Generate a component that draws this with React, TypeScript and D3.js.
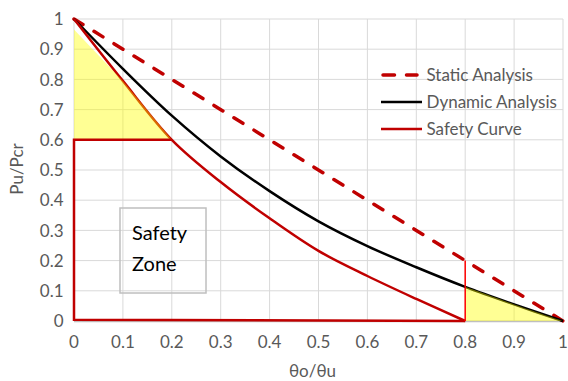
import React from "react";
import * as d3 from "d3";

const ticks = [0, 0.1, 0.2, 0.3, 0.4, 0.5, 0.6, 0.7, 0.8, 0.9, 1];
const tickLabels = ["0", "0.1", "0.2", "0.3", "0.4", "0.5", "0.6", "0.7", "0.8", "0.9", "1"];

const staticX = [0, 1];
const staticY = [1, 0];

const dynamicX = [0, 0.1, 0.2, 0.3, 0.4, 0.5, 0.6, 0.7, 0.8, 0.9, 1];
const dynamicY = [1, 0.835, 0.68, 0.545, 0.43, 0.33, 0.248, 0.178, 0.113, 0.055, 0];

const safetyX = [0, 0.1, 0.2, 0.3, 0.4, 0.5, 0.6, 0.7, 0.8];
const safetyY = [1, 0.795, 0.6, 0.46, 0.34, 0.232, 0.149, 0.073, 0];

// safety zone outline (red)
const zoneX = [0.2, 0, 0, 0.8];
const zoneY = [0.6, 0.6, 0.004, 0];

// vertical marker at 0.8
const markX = [0.8, 0.8];
const markY = [0, 0.2];

// yellow regions
const fillAX = [0, 0, 0.1, 0.2];
const fillAY = [0.6, 0.965, 0.795, 0.6];
const fillBX = [0.8, 0.9, 1];
const fillBY = [0.113, 0.055, 0];

const legendLabels = ["Static Analysis", "Dynamic Analysis", "Safety Curve"];

const W = 568;
const H = 381;
const FONT = "Lato, 'Noto Sans', sans-serif";

export default function App() {
  const x = d3.scaleLinear().domain([0, 1]).range([74, 563]);
  const y = d3.scaleLinear().domain([0, 1]).range([321, 19]);

  const pts = (xs: number[], ys: number[]) => xs.map((v, i) => [v, ys[i]] as [number, number]);

  const smooth = d3
    .line<[number, number]>()
    .x((d) => x(d[0]))
    .y((d) => y(d[1]))
    .curve(d3.curveCatmullRom.alpha(0.5));
  const straight = d3
    .line<[number, number]>()
    .x((d) => x(d[0]))
    .y((d) => y(d[1]));

  const areaB = d3
    .area<[number, number]>()
    .x((d) => x(d[0]))
    .y0(y(0))
    .y1((d) => y(d[1]))
    .curve(d3.curveCatmullRom.alpha(0.5));

  const polyA = pts(fillAX, fillAY).map((p) => `${x(p[0])},${y(p[1])}`).join(" ");

  const legendY = [75, 102, 129];

  return (
    <svg width={W} height={H} style={{ position: "absolute", left: 0, top: 0, background: "#fff" }}>
      {/* grid */}
      {ticks.map((t, i) => (
        <line key={"gx" + i} x1={x(t)} x2={x(t)} y1={y(0)} y2={y(1)} stroke="#d9d9d9" strokeWidth={1} />
      ))}
      {ticks.map((t, i) => (
        <line key={"gy" + i} x1={x(0)} x2={x(1)} y1={y(t)} y2={y(t)} stroke="#d9d9d9" strokeWidth={1} />
      ))}
      <line x1={x(0)} x2={x(1)} y1={y(0) + 0.5} y2={y(0) + 0.5} stroke="#bfbfbf" strokeWidth={1.5} />

      {/* series */}
      <path
        d={straight(pts(staticX, staticY)) || ""}
        fill="none"
        stroke="#c00000"
        strokeWidth={3.5}
        strokeDasharray="10.5 13"
        strokeLinecap="round"
      />
      <path d={smooth(pts(dynamicX, dynamicY)) || ""} fill="none" stroke="#000" strokeWidth={2.5} />
      <path d={smooth(pts(safetyX, safetyY)) || ""} fill="none" stroke="#c00000" strokeWidth={2.5} />

      {/* yellow fills */}
      <polygon points={polyA} fill="#ffff00" fillOpacity={0.42} />
      <path d={areaB(pts(fillBX, fillBY)) || ""} fill="#ffff00" fillOpacity={0.42} />

      {/* zone outline */}
      <path d={straight(pts(zoneX, zoneY)) || ""} fill="none" stroke="#c00000" strokeWidth={2.5} />
      <path d={straight(pts(markX, markY)) || ""} fill="none" stroke="#ff0000" strokeWidth={1.5} />

      {/* safety zone box */}
      <rect x={120} y={208} width={86} height={85} fill="none" stroke="#bfbfbf" strokeWidth={1.5} />
      <text x={132} y={240} fontFamily={FONT} fontSize={20} fill="#000">
        Safety
      </text>
      <text x={132} y={271} fontFamily={FONT} fontSize={20} fill="#000">
        Zone
      </text>

      {/* tick labels */}
      {ticks.map((t, i) => (
        <text key={"ty" + i} x={63.5} y={y(t) + 6.2} textAnchor="end" fontFamily={FONT} fontSize={17} fill="#595959">
          {tickLabels[i]}
        </text>
      ))}
      {ticks.map((t, i) => (
        <text key={"tx" + i} x={x(t)} y={348} textAnchor="middle" fontFamily={FONT} fontSize={17} fill="#595959">
          {tickLabels[i]}
        </text>
      ))}

      {/* axis titles */}
      <text x={312.5} y={376.5} textAnchor="middle" fontFamily={FONT} fontSize={17} fill="#595959">
        θo/θu
      </text>
      <text
        transform="translate(23.3,169) rotate(-90)"
        textAnchor="middle"
        fontFamily={FONT}
        fontSize={17}
        fill="#595959"
      >
        Pu/Pcr
      </text>

      {/* legend */}
      <line x1={383} x2={417} y1={legendY[0]} y2={legendY[0]} stroke="#c00000" strokeWidth={3.5} strokeDasharray="11.5 12" strokeLinecap="round" />
      <line x1={381} x2={422} y1={legendY[1]} y2={legendY[1]} stroke="#000" strokeWidth={2.5} />
      <line x1={381} x2={422} y1={legendY[2]} y2={legendY[2]} stroke="#c00000" strokeWidth={2.5} />
      {legendLabels.map((l, i) => (
        <text key={"lg" + i} x={426.5} y={legendY[i] + 6} fontFamily={FONT} fontSize={17} fill="#595959">
          {l}
        </text>
      ))}
    </svg>
  );
}
